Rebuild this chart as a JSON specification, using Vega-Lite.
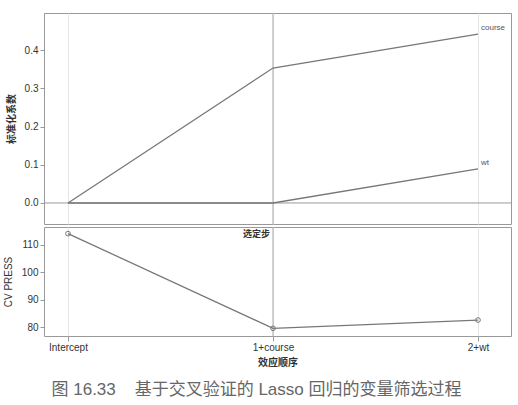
{
  "$schema": "https://vega.github.io/schema/vega-lite/v6.json",
  "background": "white",
  "padding": {"left": 2, "top": 12, "right": 8, "bottom": 5},
  "config": {
    "view": {"stroke": "#999", "strokeWidth": 1},
    "axis": {
      "labelFont": "Liberation Sans", "labelFontSize": 10, "labelColor": "#333", "labelOverlap": false,
      "titleFont": "Noto Sans CJK SC", "titleFontSize": 10, "titleColor": "#333", "titleFontWeight": "bold",
      "tickColor": "#999", "tickSize": 4, "domain": false, "grid": false
    },
    "concat": {"spacing": 1}
  },
  "title": {
    "text": "图 16.33\u00a0\u00a0\u00a0\u00a0基于交叉验证的 Lasso 回归的变量筛选过程",
    "orient": "bottom", "anchor": "middle", "frame": "group", "dx": -21,
    "font": "Liberation Sans, Noto Sans CJK SC", "fontSize": 17, "fontWeight": "normal", "color": "#666", "offset": 14
  },
  "datasets": {
    "coef": [
      {"step": 0, "order": "Intercept", "effect": "course", "coef": 0},
      {"step": 1, "order": "1+course", "effect": "course", "coef": 0.353},
      {"step": 2, "order": "2+wt", "effect": "course", "coef": 0.442},
      {"step": 0, "order": "Intercept", "effect": "wt", "coef": 0},
      {"step": 1, "order": "1+course", "effect": "wt", "coef": 0},
      {"step": 2, "order": "2+wt", "effect": "wt", "coef": 0.089}
    ],
    "press": [
      {"step": 0, "order": "Intercept", "press": 114.0},
      {"step": 1, "order": "1+course", "press": 79.6},
      {"step": 2, "order": "2+wt", "press": 82.6}
    ],
    "selected": [
      {"step": 1, "label": "选定步", "coef": 0, "press": 116.4}
    ]
  },
  "vconcat": [
    {
      "width": 467, "height": 211,
      "layer": [
        {
          "data": {"name": "selected"},
          "mark": {"type": "rule", "color": "#999", "strokeWidth": 1},
          "encoding": {"y": {"field": "coef", "type": "quantitative"}}
        },
        {
          "data": {"name": "selected"},
          "mark": {"type": "rule", "color": "#aaa", "strokeWidth": 1},
          "encoding": {"x": {"field": "step", "type": "quantitative"}}
        },
        {
          "data": {"name": "coef"},
          "mark": {"type": "line", "color": "#777", "strokeWidth": 1.3},
          "encoding": {
            "x": {"field": "step", "type": "quantitative",
                  "scale": {"domain": [-0.117, 2.161], "nice": false, "zero": false},
                  "axis": {"values": [0, 1, 2], "tickCount": 3, "labels": false, "ticks": false, "title": null, "grid": true, "gridColor": "#e6e6e6"}},
            "y": {"field": "coef", "type": "quantitative",
                  "scale": {"domain": [-0.055, 0.497], "nice": false, "zero": false},
                  "axis": {"values": [0, 0.1, 0.2, 0.3, 0.4], "tickCount": 5, "format": ".1f", "title": "标准化系数", "titlePadding": 8}},
            "detail": {"field": "effect"}
          }
        },
        {
          "data": {"name": "coef"},
          "transform": [{"filter": "datum.step == 2"}],
          "mark": {"type": "text", "align": "left", "baseline": "bottom", "dx": 3, "dy": -2, "font": "Liberation Sans", "fontSize": 8, "color": "#555"},
          "encoding": {
            "x": {"field": "step", "type": "quantitative"},
            "y": {"field": "coef", "type": "quantitative"},
            "text": {"field": "effect"}
          }
        }
      ]
    },
    {
      "width": 467, "height": 109,
      "layer": [
        {
          "data": {"name": "selected"},
          "mark": {"type": "rule", "color": "#aaa", "strokeWidth": 1},
          "encoding": {"x": {"field": "step", "type": "quantitative"}}
        },
        {
          "data": {"name": "press"},
          "mark": {"type": "line", "color": "#777", "strokeWidth": 1.3, "point": {"filled": false, "color": "#777", "size": 22, "strokeWidth": 1}},
          "encoding": {
            "x": {"field": "step", "type": "quantitative",
                  "scale": {"domain": [-0.117, 2.161], "nice": false, "zero": false},
                  "axis": {"values": [0, 1, 2], "tickCount": 3, "labelExpr": "datum.value == 0 ? 'Intercept' : datum.value == 1 ? '1+course' : '2+wt'", "title": "效应顺序", "titlePadding": 5, "tickSize": 5, "labelPadding": 1, "grid": true, "gridColor": "#e6e6e6"}},
            "y": {"field": "press", "type": "quantitative",
                  "scale": {"domain": [76.8, 116.4], "nice": false, "zero": false},
                  "axis": {"values": [80, 90, 100, 110], "tickCount": 4, "title": "CV PRESS", "titleFont": "Liberation Sans", "titleFontWeight": "normal", "titlePadding": 8}}
          }
        },
        {
          "data": {"name": "selected"},
          "mark": {"type": "text", "align": "right", "baseline": "top", "dx": -3, "dy": 3, "font": "Noto Sans CJK SC", "fontSize": 9, "fontWeight": "bold", "color": "#333"},
          "encoding": {
            "x": {"field": "step", "type": "quantitative"},
            "y": {"field": "press", "type": "quantitative"},
            "text": {"field": "label"}
          }
        }
      ]
    }
  ]
}
